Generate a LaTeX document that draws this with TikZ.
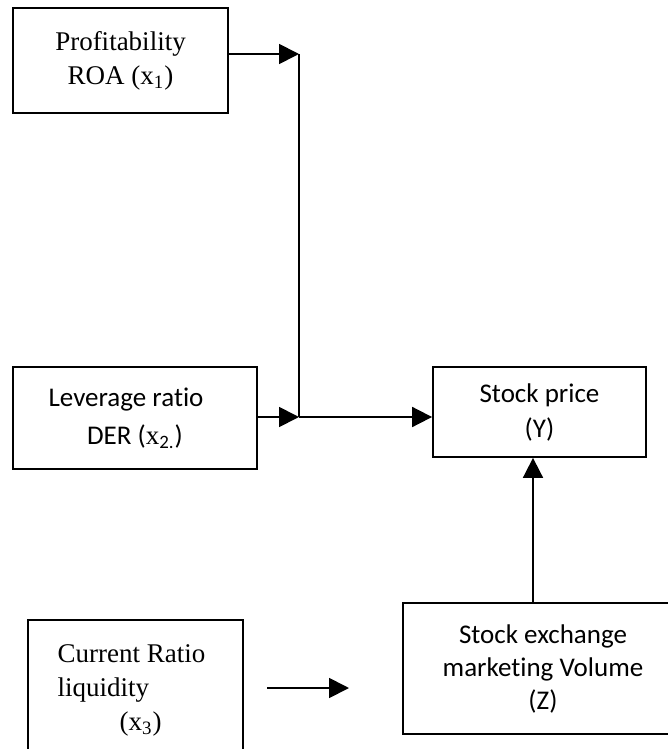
\documentclass[tikz,border=0pt]{standalone}
\usepackage{fontspec}
\setmainfont{Liberation Serif}
\newfontfamily\calibri[Ligatures=CommonOff]{Carlito}
\usetikzlibrary{arrows.meta}

\begin{document}
\begin{tikzpicture}[x=0.5pt, y=-0.5pt,
    every node/.style={font=\fontsize{13.5}{17}\selectfont},
    box/.style={draw, line width=0.9pt, inner sep=0pt, align=center},
    link/.style={line width=0.9pt},
    arr/.style={link, -{Triangle[length=10pt, width=10pt]}}]
      \clip (0,0) rectangle (668,749);
      \node [box, minimum width=107.5pt, minimum height=52.5pt] (roa) at (120.5, 60.5) {Profitability\\ROA (x\textsubscript{1})};
      \node [box, minimum width=122pt, minimum height=51pt, font=\calibri\fontsize{13.5}{19}\selectfont] (der) at (135, 418) {Leverage ratio\hspace*{9pt}\\DER ({\rmfamily x}\textsubscript{2.})};
      \node [box, minimum width=106.5pt, minimum height=45pt, font=\calibri\fontsize{13.5}{17.5}\selectfont] (price) at (539.5, 412) {Stock price\\(Y)};
      \node [box, minimum width=140pt, minimum height=65.5pt, font=\calibri\fontsize{13.5}{16.5}\selectfont] (vol) at (543, 668.5) {Stock exchange\\marketing Volume\\(Z)};
      \node [box, minimum width=107.5pt, minimum height=70pt, align=left] (cr) at (135.5, 690) {Current Ratio\hspace*{4pt}\\liquidity\\\hspace*{31pt}(x\textsubscript{3})};
      \coordinate (j1) at (299, 54);
      \coordinate (j2) at (299, 417);
      \coordinate (k) at (533, 0);
      \coordinate (a1) at (267, 688);
      \coordinate (a2) at (349, 688);
      \draw [arr] (roa.east |- j1) to (j1);
      \draw [link] (j1) to (j2);
      \draw [arr] (der.east |- j2) to (j2);
      \draw [arr] (j2) to (j2 -| price.west);
      \draw [arr] (vol.north -| k) to (price.south -| k);
      \draw [arr] (a1) to (a2);
    \end{tikzpicture}
\end{document}
